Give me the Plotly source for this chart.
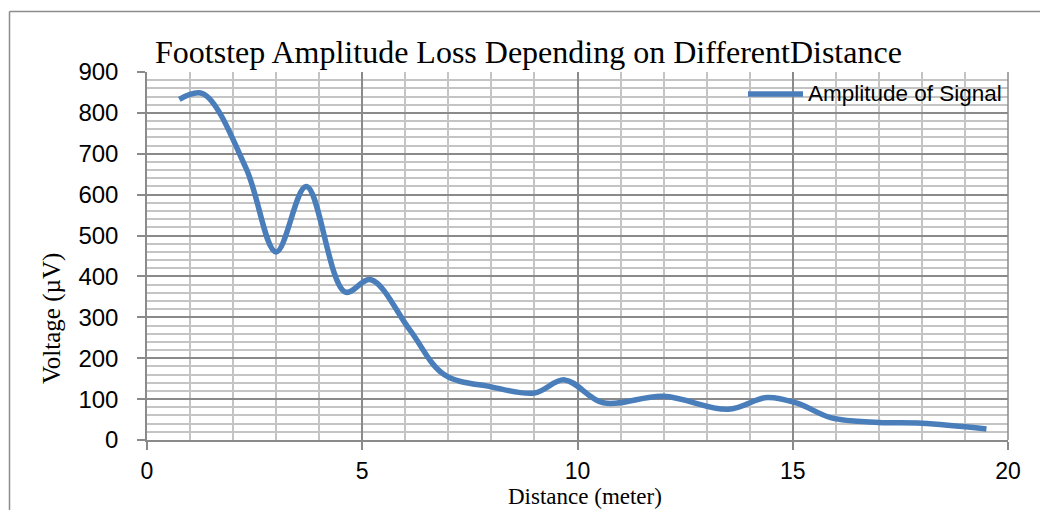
import plotly.graph_objects as go

# Data
distance = [0.75, 1.3, 2.3, 3.0, 3.7, 4.6, 5.2, 6.1, 6.9, 8.0, 9.0, 9.7, 10.6, 12.0, 13.5, 14.4, 15.1, 15.9, 17.0, 18.0, 19.5]
amplitude = [833, 847, 665, 460, 620, 362, 392, 270, 160, 130, 115, 147, 91, 107, 75, 104, 90, 54, 43, 41, 27]
x_ticks = [0, 5, 10, 15, 20]
y_ticks = [0, 100, 200, 300, 400, 500, 600, 700, 800, 900]
series_name = "Amplitude of Signal"
title_text = "Footstep Amplitude Loss Depending on DifferentDistance"
x_title = "Distance (meter)"
y_title = "Voltage (µV)"

LINE_COLOR = "#4a7ebb"
MAJOR = "#8a8a8a"
MINOR = "#c4c4c4"
SANS = "Liberation Sans"
SERIF = "Liberation Serif"

fig = go.Figure()
fig.add_trace(go.Scatter(
    x=distance, y=amplitude, mode="lines", name=series_name,
    line=dict(color=LINE_COLOR, width=5.5, shape="spline", smoothing=1),
    showlegend=False,
))

L, R, T, B = 147, 32, 72, 70
W, H = 1040, 510
pw, ph = W - L - R, H - T - B

def px_x(p):
    return (p - L) / pw

def px_y(p):
    return (H - B - p) / ph

fig.update_layout(
    width=W, height=H,
    margin=dict(l=L, r=R, t=T, b=B, pad=0),
    paper_bgcolor="white", plot_bgcolor="white",
    xaxis=dict(
        range=[0, 20], tickvals=x_ticks, ticktext=[str(v) for v in x_ticks],
        showgrid=True, gridcolor=MAJOR, gridwidth=1.5,
        minor=dict(dtick=1, tick0=0, showgrid=True, gridcolor=MINOR, gridwidth=1.5),
        showline=True, linecolor=MAJOR, linewidth=1.5,
        ticks="outside", ticklen=8, tickcolor=MAJOR, tickwidth=1.5,
        tickfont=dict(family=SANS, size=23, color="black"),
        ticklabelstandoff=2, zeroline=False, automargin=False,
    ),
    yaxis=dict(
        range=[0, 900], tickvals=y_ticks, ticktext=[str(v) for v in y_ticks],
        showgrid=True, gridcolor=MAJOR, gridwidth=1.5,
        minor=dict(dtick=20, tick0=0, showgrid=True, gridcolor=MINOR, gridwidth=1.5),
        showline=True, linecolor=MAJOR, linewidth=1.5,
        ticks="outside", ticklen=8, tickcolor=MAJOR, tickwidth=1.5,
        tickfont=dict(family=SANS, size=24, color="black"),
        ticklabelstandoff=14, zeroline=False, automargin=False,
    ),
)

# Right border of plot area
fig.add_shape(type="line", xref="paper", yref="paper", x0=1, x1=1, y0=0, y1=1,
              line=dict(color=MAJOR, width=1.5))

# Outer chart frame (left and top edges visible)
fig.add_shape(type="line", xref="paper", yref="paper",
              x0=px_x(9.5), x1=px_x(9.5), y0=px_y(11.5), y1=px_y(515),
              line=dict(color="#8c8c8c", width=1.5))
fig.add_shape(type="line", xref="paper", yref="paper",
              x0=px_x(9.5), x1=px_x(1045), y0=px_y(11.5), y1=px_y(11.5),
              line=dict(color="#8c8c8c", width=1.5))

# Title
fig.add_annotation(text=title_text, xref="paper", yref="paper",
                   x=px_x(528), y=px_y(52), xanchor="center", yanchor="middle",
                   showarrow=False, font=dict(family=SERIF, size=32, color="black"))

# Axis titles
fig.add_annotation(text=x_title, xref="paper", yref="paper",
                   x=px_x(585), y=px_y(496.5), xanchor="center", yanchor="middle",
                   showarrow=False, font=dict(family=SERIF, size=23, color="black"))
fig.add_annotation(text=y_title, xref="paper", yref="paper",
                   x=px_x(52), y=px_y(319), xanchor="center", yanchor="middle",
                   textangle=-90, showarrow=False,
                   font=dict(family=SERIF, size=25, color="black"))

# Legend (manual)
fig.add_shape(type="line", xref="paper", yref="paper",
              x0=px_x(748), x1=px_x(803), y0=px_y(94), y1=px_y(94),
              line=dict(color=LINE_COLOR, width=5.5))
fig.add_annotation(text=series_name, xref="paper", yref="paper",
                   x=px_x(806), y=px_y(93), xanchor="left", yanchor="middle",
                   showarrow=False, font=dict(family=SANS, size=22.5, color="black"))

fig.write_html("out.html")
